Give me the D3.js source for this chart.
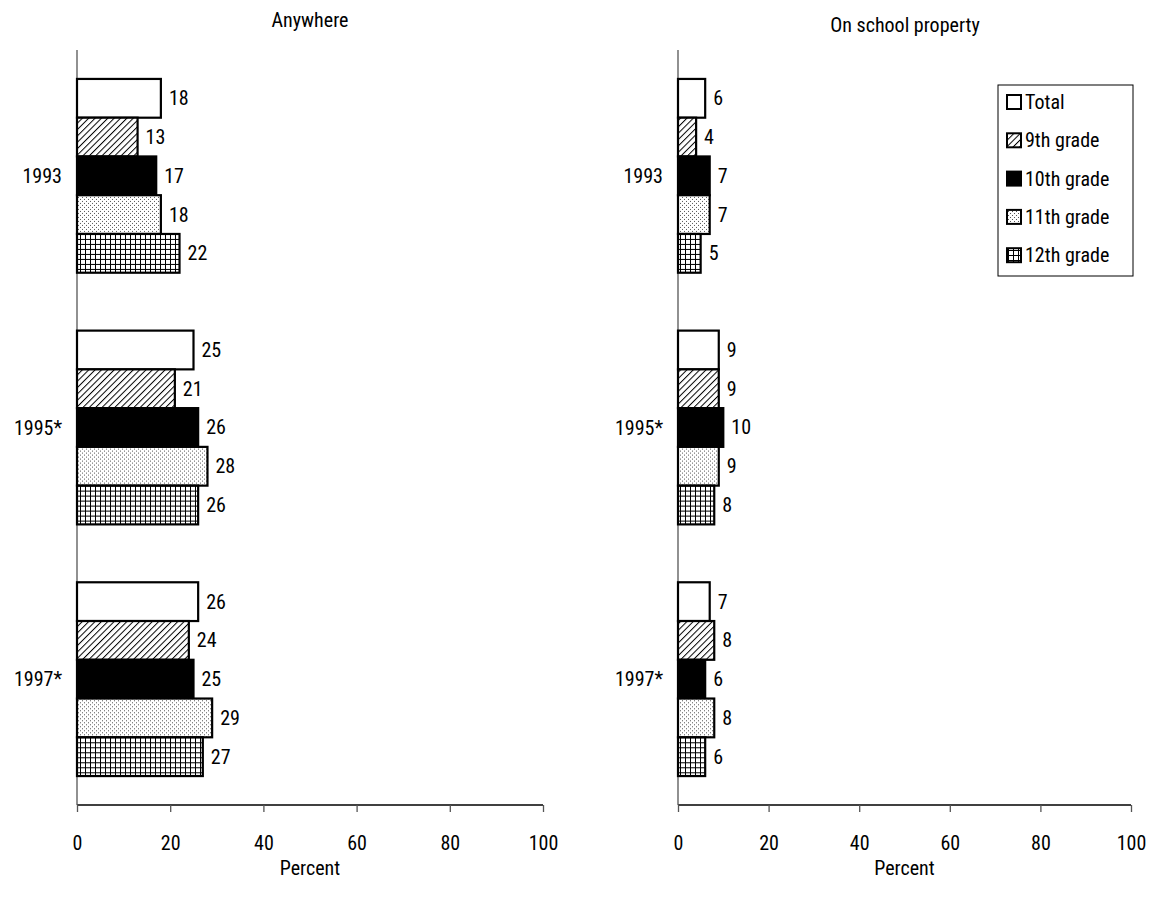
<!DOCTYPE html>
<html><head><meta charset="utf-8">
<script src="https://cdn.jsdelivr.net/npm/d3@7/dist/d3.min.js"></script>
<style>
body{margin:0;background:#fff;}
text{font-family:"Liberation Sans Narrow","Arial Narrow","Roboto Condensed",sans-serif;fill:#000;font-weight:normal;}
</style></head>
<body><svg id="c" width="1154" height="912"></svg>
<script>
const years = ["1993", "1995*", "1997*"];
const seriesNames = ["Total", "9th grade", "10th grade", "11th grade", "12th grade"];
const anywhere = [[18,13,17,18,22],[25,21,26,28,26],[26,24,25,29,27]];
const onSchool = [[6,4,7,7,5],[9,9,10,9,8],[7,8,6,8,6]];
const xTicks = [0,20,40,60,80,100];
const panelTitles = ["Anywhere", "On school property"];

const FS = "20px";
const svg = d3.select("#c");
const defs = svg.append("defs");
const ph = defs.append("pattern").attr("id","hatch").attr("patternUnits","userSpaceOnUse").attr("width",4.5).attr("height",4.5).attr("patternTransform","rotate(45)");
ph.append("rect").attr("width",4.5).attr("height",4.5).attr("fill","#fff");
ph.append("line").attr("x1",0).attr("y1",0).attr("x2",0).attr("y2",4.5).attr("stroke","#000").attr("stroke-width",2);
const pd = defs.append("pattern").attr("id","dots").attr("patternUnits","userSpaceOnUse").attr("width",4).attr("height",4);
pd.append("rect").attr("width",4).attr("height",4).attr("fill","#fff");
pd.append("rect").attr("x",0).attr("y",0).attr("width",1).attr("height",1).attr("fill","#555");
pd.append("rect").attr("x",2).attr("y",2).attr("width",1).attr("height",1).attr("fill","#555");
const pg = defs.append("pattern").attr("id","grid").attr("patternUnits","userSpaceOnUse").attr("width",5).attr("height",5);
pg.append("rect").attr("width",5).attr("height",5).attr("fill","#fff");
pg.append("line").attr("x1",0.5).attr("y1",0).attr("x2",0.5).attr("y2",5).attr("stroke","#000").attr("stroke-width",1);
pg.append("line").attr("x1",0).attr("y1",0.5).attr("x2",5).attr("y2",0.5).attr("stroke","#000").attr("stroke-width",1);
const fills = ["#fff","url(#hatch)","#000","url(#dots)","url(#grid)"];

const panels = [
  {data: anywhere, x0: 77, x1: 543, title: panelTitles[0], tx: 310, ty: 20},
  {data: onSchool, x0: 678, x1: 1131, title: panelTitles[1], tx: 905, ty: 25}
];
const yTop = 50, yBot = 805;
const y = d3.scaleBand().domain(years).range([yTop, yBot]).paddingInner(0.23).paddingOuter(0.115);
const ys = d3.scaleBand().domain(d3.range(5)).range([0, y.bandwidth()]);

panels.forEach(p => {
  const x = d3.scaleLinear().domain([0,100]).range([p.x0, p.x1]);
  const g = svg.append("g");
  const xa = g.append("g").attr("transform",`translate(0,${yBot})`)
    .call(d3.axisBottom(x).tickValues(xTicks).tickSize(7).tickPadding(24));
  xa.select(".domain").attr("stroke","#000").attr("stroke-width",1.3).attr("d",`M${p.x0},0H${p.x1}`);
  xa.selectAll(".tick line").attr("stroke","#555").attr("stroke-width",1.3);
  xa.selectAll("text").style("font-size",FS).attr("font-family",null);
  g.append("line").attr("x1",p.x0).attr("x2",p.x0).attr("y1",yTop).attr("y2",yBot).attr("stroke","#555").attr("stroke-width",1.3);
  g.append("text").attr("x",p.tx).attr("y",p.ty).attr("dy","0.35em").attr("text-anchor","middle").style("font-size",FS).text(p.title);
  g.append("text").attr("x",(p.x0+p.x1)/2).attr("y",868).attr("dy","0.35em").attr("text-anchor","middle").style("font-size",FS).text("Percent");
  years.forEach((yr, i) => {
    const gy = g.append("g").attr("transform",`translate(0,${y(yr)})`);
    g.append("text").attr("x",p.x0-15).attr("y",y(yr)+y.bandwidth()/2).attr("dy","0.35em")
      .attr("text-anchor","end").style("font-size",FS).text(yr);
    gy.selectAll("rect").data(p.data[i]).join("rect")
      .attr("x",x(0)).attr("y",(d,j)=>ys(j)).attr("width",d=>x(d)-x(0)).attr("height",ys.bandwidth())
      .attr("fill",(d,j)=>fills[j]).attr("stroke","#000").attr("stroke-width",2.2);
    gy.selectAll("text").data(p.data[i]).join("text")
      .attr("x",d=>x(d)+8).attr("y",(d,j)=>ys(j)+ys.bandwidth()/2).attr("dy","0.35em")
      .style("font-size",FS).text(d=>d);
  });
});

const lg = svg.append("g").attr("transform","translate(998,85)");
lg.append("rect").attr("width",135).attr("height",191).attr("fill","#fff").attr("stroke","#000").attr("stroke-width",1);
seriesNames.forEach((n,i)=>{
  const cy = 17 + i*38.3;
  lg.append("rect").attr("x",9).attr("y",cy-7).attr("width",14).attr("height",14).attr("fill",fills[i]).attr("stroke","#000").attr("stroke-width",2);
  lg.append("text").attr("x",27).attr("y",cy).attr("dy","0.35em").style("font-size",FS).text(n);
});
</script></body></html>
